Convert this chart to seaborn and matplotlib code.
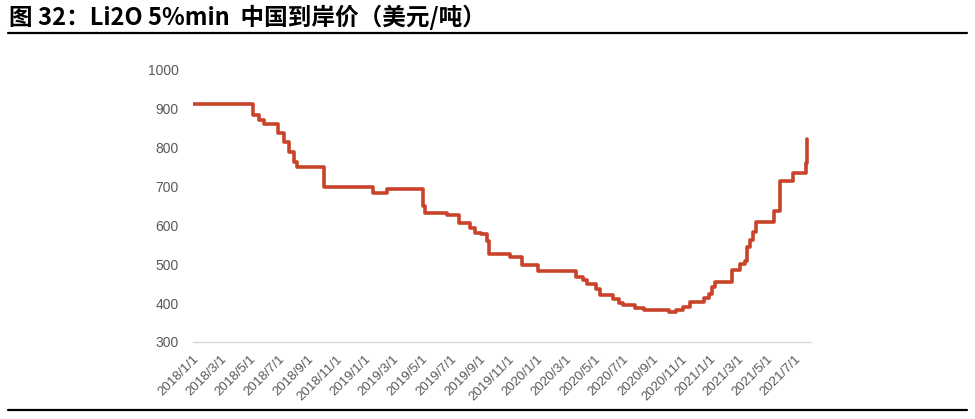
import pandas as pd
import seaborn as sns
import matplotlib.pyplot as plt

# 锂辉石 Li2O 5%min 中国到岸价，价格变动点（美元/吨）
dates = ['2018-01-01', '2018-05-09', '2018-05-21', '2018-06-01', '2018-07-01',
         '2018-07-13', '2018-07-24', '2018-08-04', '2018-08-10', '2018-10-07',
         '2019-01-18', '2019-02-17', '2019-05-04', '2019-05-09', '2019-06-24',
         '2019-07-19', '2019-08-12', '2019-08-23', '2019-09-04', '2019-09-17',
         '2019-09-21', '2019-11-04', '2019-12-01', '2020-01-03', '2020-03-24',
         '2020-04-08', '2020-04-16', '2020-05-05', '2020-05-14', '2020-06-11',
         '2020-06-23', '2020-07-02', '2020-07-26', '2020-08-14', '2020-10-07',
         '2020-10-22', '2020-11-06', '2020-11-20', '2020-12-21', '2020-12-31',
         '2021-01-06', '2021-01-13', '2021-02-18', '2021-03-06', '2021-03-16',
         '2021-03-22', '2021-03-28', '2021-04-03', '2021-04-10', '2021-05-18',
         '2021-05-31', '2021-06-27', '2021-07-24', '2021-07-26']
prices = [910, 882, 869, 860, 835,
          813, 787, 761, 749, 698,
          682, 693, 650, 631, 627,
          604, 592, 580, 577, 560,
          526, 517, 497, 483, 466,
          460, 450, 436, 421, 410,
          401, 394, 388, 383, 377,
          383, 389, 402, 414, 424,
          440, 454, 485, 500, 509,
          543, 562, 581, 607, 637,
          713, 733, 760, 822]

y_ticks = [300, 400, 500, 600, 700, 800, 900, 1000]
x_ticks = pd.date_range('2018-01-01', '2021-07-01', freq='2MS')
x_labels = [f'{d.year}/{d.month}/1' for d in x_ticks]

df = pd.DataFrame({'date': pd.to_datetime(dates), 'price': prices})

sns.set_style('white')
plt.rcParams['font.family'] = ['Noto Sans CJK SC', 'DejaVu Sans']

fig = plt.figure(figsize=(9.75, 4.19), dpi=100)
ax = fig.add_axes([0.1977, 0.1838, 0.6341, 0.6512])

sns.lineplot(data=df, x='date', y='price', ax=ax, color='#C8432A',
             linewidth=2.6, drawstyle='steps-post')

ax.set_xlim(pd.Timestamp('2018-01-01'), pd.Timestamp('2021-08-04'))
ax.set_ylim(300, 1000)
ax.set_yticks(y_ticks)
ax.set_yticklabels([str(v) for v in y_ticks], family='Liberation Sans',
                   fontsize=10, color='#595959')
ax.set_xticks(x_ticks)
ax.set_xticklabels(x_labels, rotation=45, ha='right', rotation_mode='anchor',
                   family='Liberation Sans', fontsize=9.5, color='#595959')
ax.tick_params(axis='y', length=0, pad=10)
ax.tick_params(axis='x', length=3, width=0.8, color='#D9D9D9', pad=5,
               direction='out')
ax.set_xlabel('')
ax.set_ylabel('')
for s in ['top', 'right', 'left']:
    ax.spines[s].set_visible(False)
ax.spines['bottom'].set_color('#D9D9D9')
ax.spines['bottom'].set_linewidth(1.0)

fig.text(0.009, 0.958, '图 32：Li2O 5%min  中国到岸价（美元/吨）',
         fontsize=17, fontweight='bold', color='black', va='center', ha='left')
fig.add_artist(plt.Line2D([0.008, 0.992], [0.921, 0.921], color='black', linewidth=1.6))
fig.add_artist(plt.Line2D([0.008, 0.992], [0.021, 0.021], color='black', linewidth=1.6))

fig.savefig('out.png', dpi=100)
